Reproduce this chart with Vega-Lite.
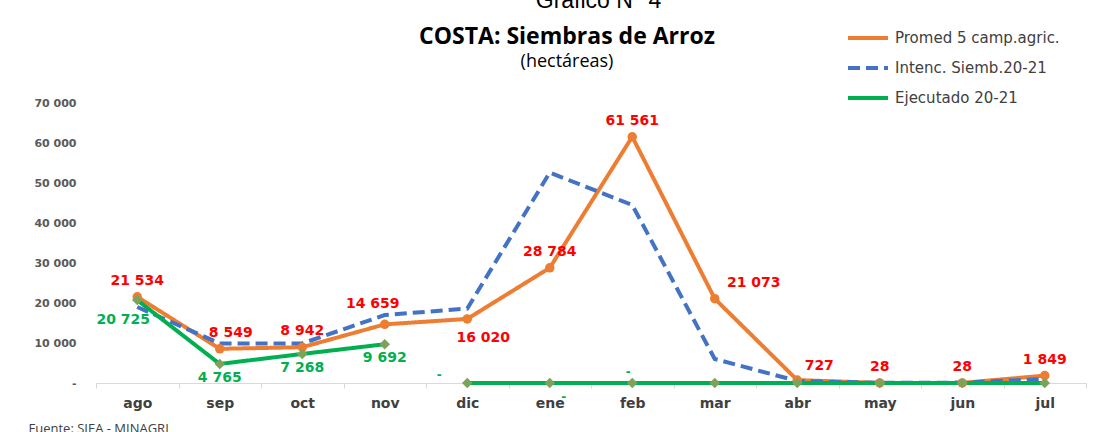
{
  "$schema": "https://vega.github.io/schema/vega-lite/v6.json",
  "width": 990,
  "height": 280,
  "autosize": {"type": "none"},
  "padding": {"left": 96, "top": 103, "right": 24, "bottom": 49},
  "background": "white",
  "config": {
    "locale": {"number": {"decimal": ",", "thousands": " ", "grouping": [3], "currency": ["", ""]}},
    "view": {"stroke": null},
    "font": "DejaVu Sans"
  },
  "title": {
    "text": "COSTA: Siembras de Arroz",
    "subtitle": "(hectáreas)",
    "font": "Open Sans",
    "fontSize": 23,
    "fontWeight": "bold",
    "color": "#000000",
    "subtitleFont": "Open Sans",
    "subtitleFontSize": 18,
    "subtitleColor": "#000000",
    "subtitlePadding": 4,
    "anchor": "middle",
    "dx": -24,
    "offset": -82
  },
  "data": {
    "values": [
      {"month": "ago", "series": "Promed 5 camp.agric.", "seg": "a", "value": 21534},
      {"month": "sep", "series": "Promed 5 camp.agric.", "seg": "a", "value": 8549},
      {"month": "oct", "series": "Promed 5 camp.agric.", "seg": "a", "value": 8942},
      {"month": "nov", "series": "Promed 5 camp.agric.", "seg": "a", "value": 14659},
      {"month": "dic", "series": "Promed 5 camp.agric.", "seg": "a", "value": 16020},
      {"month": "ene", "series": "Promed 5 camp.agric.", "seg": "a", "value": 28784},
      {"month": "feb", "series": "Promed 5 camp.agric.", "seg": "a", "value": 61561},
      {"month": "mar", "series": "Promed 5 camp.agric.", "seg": "a", "value": 21073},
      {"month": "abr", "series": "Promed 5 camp.agric.", "seg": "a", "value": 727},
      {"month": "may", "series": "Promed 5 camp.agric.", "seg": "a", "value": 28},
      {"month": "jun", "series": "Promed 5 camp.agric.", "seg": "a", "value": 28},
      {"month": "jul", "series": "Promed 5 camp.agric.", "seg": "a", "value": 1849},
      {"month": "ago", "series": "Intenc. Siemb.20-21", "seg": "a", "value": 19000},
      {"month": "sep", "series": "Intenc. Siemb.20-21", "seg": "a", "value": 9900},
      {"month": "oct", "series": "Intenc. Siemb.20-21", "seg": "a", "value": 9900},
      {"month": "nov", "series": "Intenc. Siemb.20-21", "seg": "a", "value": 17000},
      {"month": "dic", "series": "Intenc. Siemb.20-21", "seg": "a", "value": 18600},
      {"month": "ene", "series": "Intenc. Siemb.20-21", "seg": "a", "value": 52600},
      {"month": "feb", "series": "Intenc. Siemb.20-21", "seg": "a", "value": 44500},
      {"month": "mar", "series": "Intenc. Siemb.20-21", "seg": "a", "value": 6000},
      {"month": "abr", "series": "Intenc. Siemb.20-21", "seg": "a", "value": 500},
      {"month": "may", "series": "Intenc. Siemb.20-21", "seg": "a", "value": 50},
      {"month": "jun", "series": "Intenc. Siemb.20-21", "seg": "a", "value": 100},
      {"month": "jul", "series": "Intenc. Siemb.20-21", "seg": "a", "value": 1000},
      {"month": "ago", "series": "Ejecutado 20-21", "seg": "a", "value": 20725},
      {"month": "sep", "series": "Ejecutado 20-21", "seg": "a", "value": 4765},
      {"month": "oct", "series": "Ejecutado 20-21", "seg": "a", "value": 7268},
      {"month": "nov", "series": "Ejecutado 20-21", "seg": "a", "value": 9692},
      {"month": "dic", "series": "Ejecutado 20-21", "seg": "b", "value": 0},
      {"month": "ene", "series": "Ejecutado 20-21", "seg": "b", "value": 0},
      {"month": "feb", "series": "Ejecutado 20-21", "seg": "b", "value": 0},
      {"month": "mar", "series": "Ejecutado 20-21", "seg": "b", "value": 0},
      {"month": "abr", "series": "Ejecutado 20-21", "seg": "b", "value": 0},
      {"month": "may", "series": "Ejecutado 20-21", "seg": "b", "value": 0},
      {"month": "jun", "series": "Ejecutado 20-21", "seg": "b", "value": 0},
      {"month": "jul", "series": "Ejecutado 20-21", "seg": "b", "value": 0}
    ]
  },
  "encoding": {
    "x": {
      "field": "month",
      "type": "ordinal",
      "sort": ["ago", "sep", "oct", "nov", "dic", "ene", "feb", "mar", "abr", "may", "jun", "jul"],
      "scale": {"paddingInner": 0, "paddingOuter": 0},
      "axis": {
        "labelAngle": 0,
        "labelFont": "DejaVu Sans",
        "labelFontSize": 14,
        "labelFontWeight": "bold",
        "labelColor": "#404040",
        "labelPadding": 8,
        "tickBand": "extent",
        "tickSize": 5,
        "tickColor": "#d9d9d9",
        "domainColor": "#d9d9d9",
        "domainWidth": 1,
        "grid": false,
        "title": "Fuente: SIEA - MINAGRI",
        "titleFont": "Open Sans",
        "titleFontSize": 13,
        "titleFontWeight": "normal",
        "titleColor": "#404040",
        "titleX": -68,
        "titleY": 49,
        "titleAlign": "left",
        "titleBaseline": "alphabetic",
        "titleAnchor": null
      }
    },
    "y": {
      "field": "value",
      "type": "quantitative",
      "scale": {"domain": [0, 70000], "nice": false},
      "axis": {
        "values": [0, 10000, 20000, 30000, 40000, 50000, 60000, 70000],
        "format": ",d",
        "labelExpr": "datum.value === 0 ? '-' : datum.label",
        "labelFont": "DejaVu Sans",
        "labelFontSize": 11,
        "labelFontWeight": "bold",
        "labelColor": "#595959",
        "labelPadding": 20,
        "ticks": false,
        "domain": false,
        "grid": false,
        "title": "Gráfico N°  4",
        "titleAngle": 0,
        "titleFont": "Liberation Sans",
        "titleFontSize": 23,
        "titleFontWeight": "normal",
        "titleColor": "#000000",
        "titleX": 502,
        "titleY": -96,
        "titleAlign": "center",
        "titleBaseline": "alphabetic"
      }
    }
  },
  "layer": [
    {
      "mark": {"type": "line", "strokeWidth": 4},
      "encoding": {
        "color": {
          "field": "series",
          "type": "nominal",
          "scale": {
            "domain": ["Promed 5 camp.agric.", "Intenc. Siemb.20-21", "Ejecutado 20-21"],
            "range": ["#ED7D31", "#4472C4", "#00B050"]
          },
          "legend": {
            "title": null,
            "orient": "none",
            "legendX": 750,
            "legendY": -87,
            "symbolType": "stroke",
            "symbolStrokeWidth": 4,
            "symbolSize": 1600,
            "labelFont": "DejaVu Sans",
            "labelFontSize": 15,
            "labelColor": "#404040",
            "labelOffset": 5,
            "labelLimit": 300,
            "rowPadding": -10
          }
        },
        "strokeDash": {
          "field": "series",
          "type": "nominal",
          "scale": {
            "domain": ["Promed 5 camp.agric.", "Intenc. Siemb.20-21", "Ejecutado 20-21"],
            "range": [[1, 0], [12, 6], [1, 0]]
          },
          "legend": {
            "title": null,
            "orient": "none",
            "legendX": 750,
            "legendY": -87,
            "symbolType": "stroke",
            "symbolStrokeWidth": 4,
            "symbolSize": 1600,
            "labelFont": "DejaVu Sans",
            "labelFontSize": 15,
            "labelColor": "#404040",
            "labelOffset": 5,
            "labelLimit": 300,
            "rowPadding": -10
          }
        },
        "detail": {"field": "seg"}
      }
    },
    {
      "transform": [{"filter": "datum.series === 'Promed 5 camp.agric.'"}],
      "mark": {"type": "circle", "size": 90, "color": "#ED7D31", "opacity": 1}
    },
    {
      "transform": [{"filter": "datum.series === 'Ejecutado 20-21'"}],
      "mark": {"type": "point", "shape": "diamond", "filled": true, "size": 110, "color": "#7DA35A", "opacity": 1}
    },
    {
      "transform": [{"filter": "datum.series === 'Promed 5 camp.agric.' && indexof(['ago','oct','ene','feb','may','jun','jul'], datum.month) >= 0"}],
      "mark": {"type": "text", "font": "DejaVu Sans", "fontSize": 14, "fontWeight": "bold", "color": "#FF0000", "baseline": "middle", "dy": -16},
      "encoding": {"text": {"field": "value", "type": "quantitative", "format": ",d"}}
    },
    {
      "transform": [{"filter": "datum.series === 'Promed 5 camp.agric.' && datum.month === 'sep'"}],
      "mark": {"type": "text", "font": "DejaVu Sans", "fontSize": 14, "fontWeight": "bold", "color": "#FF0000", "baseline": "middle", "dy": -16, "dx": 11},
      "encoding": {"text": {"field": "value", "type": "quantitative", "format": ",d"}}
    },
    {
      "transform": [{"filter": "datum.series === 'Promed 5 camp.agric.' && datum.month === 'nov'"}],
      "mark": {"type": "text", "font": "DejaVu Sans", "fontSize": 14, "fontWeight": "bold", "color": "#FF0000", "baseline": "middle", "dy": -20, "dx": -12},
      "encoding": {"text": {"field": "value", "type": "quantitative", "format": ",d"}}
    },
    {
      "transform": [{"filter": "datum.series === 'Promed 5 camp.agric.' && datum.month === 'dic'"}],
      "mark": {"type": "text", "font": "DejaVu Sans", "fontSize": 14, "fontWeight": "bold", "color": "#FF0000", "baseline": "middle", "dy": 19, "dx": 16},
      "encoding": {"text": {"field": "value", "type": "quantitative", "format": ",d"}}
    },
    {
      "transform": [{"filter": "datum.series === 'Promed 5 camp.agric.' && datum.month === 'mar'"}],
      "mark": {"type": "text", "font": "DejaVu Sans", "fontSize": 14, "fontWeight": "bold", "color": "#FF0000", "baseline": "middle", "dy": -16, "dx": 39},
      "encoding": {"text": {"field": "value", "type": "quantitative", "format": ",d"}}
    },
    {
      "transform": [{"filter": "datum.series === 'Promed 5 camp.agric.' && datum.month === 'abr'"}],
      "mark": {"type": "text", "font": "DejaVu Sans", "fontSize": 14, "fontWeight": "bold", "color": "#FF0000", "baseline": "middle", "dy": -14, "dx": 22},
      "encoding": {"text": {"field": "value", "type": "quantitative", "format": ",d"}}
    },
    {
      "transform": [{"filter": "datum.series === 'Ejecutado 20-21' && indexof(['sep','oct','nov'], datum.month) >= 0"}],
      "mark": {"type": "text", "font": "DejaVu Sans", "fontSize": 14, "fontWeight": "bold", "color": "#00B050", "baseline": "middle", "dy": 14},
      "encoding": {"text": {"field": "value", "type": "quantitative", "format": ",d"}}
    },
    {
      "transform": [{"filter": "datum.series === 'Ejecutado 20-21' && datum.month === 'ago'"}],
      "mark": {"type": "text", "font": "DejaVu Sans", "fontSize": 14, "fontWeight": "bold", "color": "#00B050", "baseline": "middle", "dy": 20, "dx": -14},
      "encoding": {"text": {"field": "value", "type": "quantitative", "format": ",d"}}
    },
    {
      "transform": [{"filter": "datum.series === 'Ejecutado 20-21' && datum.month === 'dic'"}],
      "mark": {"type": "text", "font": "DejaVu Sans", "fontSize": 12, "fontWeight": "bold", "color": "#00B050", "baseline": "middle", "dy": -8, "dx": -28, "text": "-"}
    },
    {
      "transform": [{"filter": "datum.series === 'Ejecutado 20-21' && datum.month === 'ene'"}],
      "mark": {"type": "text", "font": "DejaVu Sans", "fontSize": 12, "fontWeight": "bold", "color": "#00B050", "baseline": "middle", "dy": 14, "dx": 14, "text": "-"}
    },
    {
      "transform": [{"filter": "datum.series === 'Ejecutado 20-21' && datum.month === 'feb'"}],
      "mark": {"type": "text", "font": "DejaVu Sans", "fontSize": 12, "fontWeight": "bold", "color": "#00B050", "baseline": "middle", "dy": -11, "dx": -4, "text": "-"}
    }
  ]
}
